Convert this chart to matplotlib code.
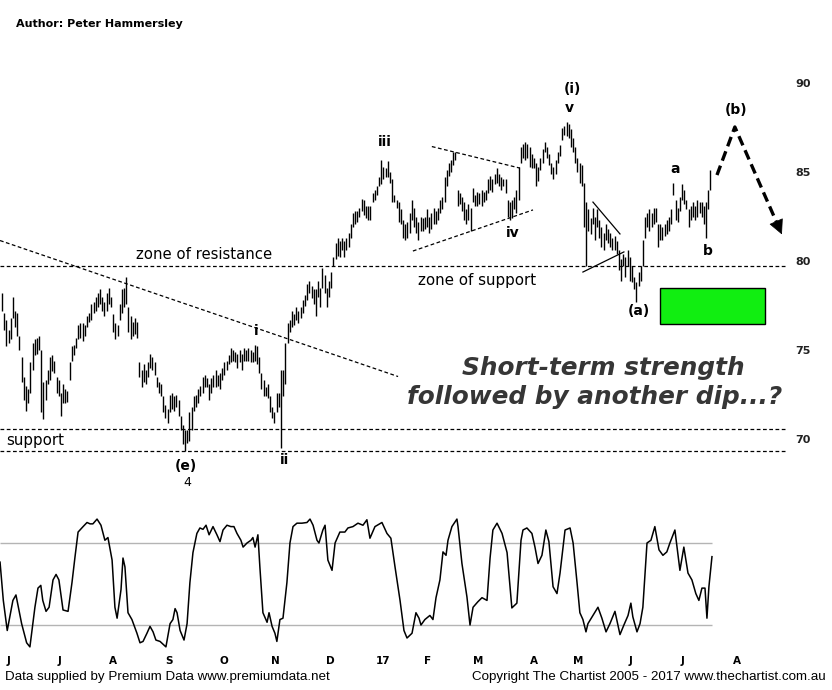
import matplotlib
matplotlib.use('Agg')
import matplotlib.pyplot as plt
from matplotlib.patches import Rectangle
from matplotlib.transforms import blended_transform_factory

# ---------------- data ----------------
highs = [
    78.2, 77.1, 76.7, 76.1, 76.8, 78.0, 77.2, 77.1, 75.8, 74.6,
    73.5, 73.0, 72.8, 74.3, 75.4, 75.6, 75.7, 75.8, 75.0, 73.2,
    73.3, 73.9, 74.6, 74.7, 74.4, 73.5, 73.3, 72.6, 73.1, 72.8,
    72.7, 74.3, 75.2, 75.3, 75.7, 76.4, 76.5, 76.5, 76.4, 76.9,
    77.1, 77.6, 77.7, 78.0, 78.2, 78.4, 78.0, 77.7, 78.2, 78.5,
    78.0, 77.0, 76.5, 76.4, 77.6, 78.4, 78.5, 79.1, 77.4, 76.9,
    76.6, 76.8, 76.6,
    74.3, 73.9, 74.2, 73.9, 74.3, 74.8, 74.6, 74.3, 73.5, 73.2,
    73.1, 72.4, 71.9, 71.7, 72.5, 72.6, 72.4, 72.5, 72.2, 71.3,
    70.8, 70.5, 70.5, 71.5, 71.8, 72.4, 72.5, 72.8, 73.0, 73.5,
    73.6, 73.4, 73.1, 73.4, 73.6, 73.9, 73.6, 73.7, 74.0, 74.3,
    74.4, 74.7, 75.1, 75.0, 74.9, 74.8, 75.0, 74.8, 75.1, 75.0,
    75.1, 75.0, 74.9, 75.3, 75.2, 74.6, 73.7, 73.3, 72.9, 73.1,
    72.4, 71.8, 71.5, 72.6, 72.6, 73.9, 73.9, 75.4,
    76.5, 76.7, 77.2, 77.0, 77.4, 77.2, 77.4, 77.8, 78.1, 78.7,
    78.9, 78.6, 78.4, 78.4, 78.9, 78.5, 79.6, 79.2, 78.5, 78.9,
    79.4, 80.2, 81.0, 81.3, 81.1, 81.3, 81.1, 81.3, 81.6, 82.1,
    82.7, 82.8, 82.8, 83.0, 83.5, 83.4, 83.1, 83.1, 83.1, 83.8,
    84.0, 84.2, 84.7, 85.7, 85.3, 85.2, 85.6, 85.0, 84.6, 83.7,
    83.4, 83.3, 82.9, 82.3, 82.1, 82.2, 82.7, 83.4, 83.0, 82.5,
    82.2, 82.5, 82.4, 82.5, 82.9,
    82.5, 82.7, 83.0, 82.8, 83.0, 83.4, 83.6, 84.7, 85.1, 85.5,
    85.7, 86.1, 86.1, 84.0, 83.8, 83.6, 83.3, 82.9, 83.2, 83.0,
    84.1, 83.7, 83.9, 83.8, 84.0, 83.9, 84.0, 84.6, 84.8, 84.6,
    84.9, 85.2, 84.9, 84.7, 84.6, 84.6, 83.4, 83.3, 83.4, 83.6,
    84.0, 85.3, 86.4, 86.6, 86.7, 86.6, 86.4, 86.0, 85.8, 85.5,
    85.3, 85.8, 86.3, 86.7, 86.4, 86.0, 85.5, 85.3, 85.7, 86.1,
    86.5, 87.5, 87.6, 87.8, 87.7, 87.4, 86.9, 86.4,
    85.8, 85.5, 85.4, 84.4, 83.3, 82.9, 82.4, 83.0, 82.5, 82.9,
    82.3, 81.9, 81.6, 82.1, 81.8, 81.6, 81.3, 81.4, 81.1, 80.6,
    80.1, 80.4, 80.2, 80.6, 80.2, 79.7, 79.1, 78.8, 79.4, 79.7,
    81.2, 82.5, 82.7, 82.9, 82.7, 83.0, 83.0, 82.1, 82.1, 81.9,
    82.1, 82.3, 82.5, 82.9, 84.4, 83.4, 83.0, 83.6, 84.3, 84.0,
    83.4, 82.9, 83.1, 83.3, 83.1, 83.4, 83.3, 83.3, 83.1, 83.3,
    84.0, 85.1,
]
lows = [
    77.2, 76.1, 75.2, 75.4, 75.6, 76.8, 76.3, 75.8, 75.0, 73.2,
    72.2, 71.6, 72.0, 72.6, 73.9, 74.7, 74.8, 75.0, 71.5, 71.1,
    72.2, 73.1, 73.3, 73.8, 73.7, 72.6, 72.4, 71.3, 72.0, 72.0,
    72.1, 73.3, 74.4, 74.7, 75.1, 75.6, 75.7, 75.5, 75.8, 76.3,
    76.6, 76.7, 77.1, 77.2, 77.4, 77.6, 77.2, 76.9, 77.2, 77.6,
    77.4, 76.0, 75.6, 75.8, 76.7, 77.1, 77.4, 77.6, 76.0, 75.6,
    75.8, 75.9, 75.7,
    73.5, 72.9, 73.2, 73.1, 73.5, 74.0, 73.9, 73.6, 72.9, 72.6,
    72.4, 71.5, 71.2, 70.9, 71.5, 71.7, 71.6, 71.8, 71.3, 70.5,
    69.7, 69.3, 69.8, 69.9, 70.5, 71.6, 71.8, 72.0, 72.4, 72.6,
    72.9, 72.9, 72.2, 72.6, 72.9, 72.9, 73.0, 72.8, 73.3, 73.6,
    73.9, 74.2, 74.3, 74.4, 74.3, 74.0, 74.3, 73.9, 74.4, 74.4,
    74.4, 74.3, 74.3, 74.4, 74.2, 73.7, 72.8, 72.4, 72.4, 72.3,
    71.5, 71.2, 70.9, 71.5, 71.8, 69.5, 72.4, 73.1,
    75.4, 76.0, 76.3, 76.4, 76.7, 76.5, 76.8, 77.1, 77.5, 77.8,
    78.2, 77.9, 77.6, 76.9, 78.0, 77.4, 78.5, 78.2, 77.4, 78.0,
    78.5, 79.7, 80.1, 80.3, 80.2, 80.6, 80.2, 80.6, 80.8, 81.3,
    81.9, 82.1, 82.2, 82.5, 82.8, 82.6, 82.4, 82.3, 82.3, 83.3,
    83.4, 83.7, 84.2, 84.3, 84.6, 84.7, 84.7, 84.4, 83.3, 83.3,
    83.0, 82.2, 82.1, 81.3, 81.2, 81.3, 81.6, 82.3, 81.9, 81.6,
    81.2, 81.7, 81.7, 81.8, 81.9,
    81.6, 81.8, 82.1, 82.1, 82.3, 82.7, 82.9, 83.3, 84.2, 84.8,
    85.0, 85.4, 85.7, 83.1, 83.2, 82.8, 82.3, 82.1, 82.3, 81.7,
    83.3, 83.1, 83.1, 83.2, 83.1, 83.3, 83.4, 83.8, 84.0, 83.9,
    84.3, 84.4, 84.2, 84.0, 84.2, 83.8, 82.5, 82.3, 82.4, 82.9,
    82.7, 83.4, 85.5, 85.8, 85.7, 85.8, 85.3, 85.2, 85.2, 84.2,
    84.5, 85.1, 85.5, 86.1, 85.8, 85.4, 84.9, 84.6, 84.9, 85.5,
    85.9, 86.8, 87.1, 87.0, 86.9, 86.4, 86.1, 85.5,
    85.0, 84.4, 84.2, 81.9, 79.7, 81.7, 81.5, 82.1, 81.2, 81.9,
    81.3, 80.8, 80.6, 81.2, 81.0, 80.8, 80.6, 80.6, 80.4, 79.5,
    78.9, 79.7, 79.1, 79.7, 78.9, 78.8, 78.4, 77.7, 78.6, 78.9,
    79.7, 81.3, 81.9, 81.7, 81.9, 82.1, 82.2, 80.8, 81.2, 81.2,
    81.4, 81.5, 81.7, 82.1, 83.7, 82.3, 82.2, 82.8, 83.4, 83.2,
    82.9, 81.9, 82.3, 82.5, 82.3, 82.5, 82.7, 82.5, 82.1, 81.3,
    82.9, 84.0,
]

# stochastic oscillator (bar position, value)
osc_x = [
    -0.9, 0.6, 2.4, 5.0, 6.4, 9.0, 11.3, 12.8, 15.1, 16.5,
    17.8, 18.7, 20.2, 21.6, 23.4, 24.8, 26.1, 28.0, 30.3, 32.1,
    33.5, 34.9, 37.2, 39.0, 40.4, 41.7, 43.6, 45.4, 47.2, 48.6,
    50.5, 51.8, 52.8, 54.6, 55.5, 56.4, 57.8, 59.6, 61.9, 63.3,
    64.7, 66.5, 67.9, 69.3, 70.6, 72.5, 75.2, 77.1, 78.4, 79.4,
    80.3, 81.7, 83.5, 84.9, 86.2, 87.6, 89.4, 90.8, 92.2, 93.6,
    95.0, 96.8, 98.6, 100.0, 101.4, 103.2, 105.0, 106.4, 107.8, 109.6,
    110.6, 112.4, 114.2, 115.1, 116.1, 117.4, 118.3, 119.7, 121.6, 122.5,
    123.9, 125.2, 126.1, 127.5, 128.9, 130.7, 132.1, 133.5, 135.3, 137.6,
    139.9, 141.3, 142.7, 144.5, 145.4, 147.2, 148.2, 149.5, 151.4, 152.8,
    155.0, 157.3, 158.7, 161.0, 163.3, 165.6, 167.4, 168.8, 171.1, 174.3,
    176.6, 178.4, 180.3, 182.6, 184.4, 185.8, 188.1, 189.9, 191.3, 192.2,
    194.0, 196.3, 197.7, 199.1, 200.9, 202.3, 203.7, 204.6, 206.4, 208.7,
    209.2, 211.0, 213.3, 214.7, 216.1, 218.3, 220.2, 222.5, 223.9, 225.2,
    227.1, 229.4, 231.7, 233.9, 236.2, 238.1, 239.0, 240.8, 243.1, 244.5,
    245.9, 247.7, 249.5, 250.9, 252.8, 254.6, 256.0, 258.3, 260.6, 262.0,
    263.8, 265.1, 266.5, 267.9, 268.8, 271.1, 273.4, 275.2, 277.1, 278.9,
    281.2, 283.5, 285.3, 287.2, 288.5, 289.4, 291.3, 292.7, 294.0, 295.9,
    297.7, 299.5, 301.4, 303.2, 305.0, 306.4, 308.7, 311.0, 312.8, 314.7,
    316.5, 318.3, 319.7, 321.1, 322.5, 323.4, 324.3, 325.7,
]
osc_val = [
    66, 38, 16, 38, 42, 21, 7, 4, 33, 47,
    49, 38, 30, 33, 53, 57, 53, 31, 30, 51,
    70, 88, 92, 95, 94, 94, 97.5, 93, 82, 84,
    67.5, 33, 25, 46, 69, 62.5, 29, 24, 14, 7,
    8, 14, 19, 15, 9, 8, 4, 21, 24, 32,
    29, 16, 9, 21, 51, 73, 87, 91, 90, 93,
    86, 92, 86, 81, 89.5, 93, 92, 92, 87, 82,
    77, 80, 82, 84, 77, 86, 62.5, 29, 22, 29,
    19, 14, 8, 24, 25, 51, 80, 92, 94.5, 94.5,
    95, 97.5, 93, 82, 80, 89.5, 93, 67.5, 60, 80,
    88, 88, 91, 92, 94.5, 93, 97, 83.5, 92, 95,
    87, 83.5, 62.5, 38, 16, 10.5, 14, 29, 25, 20,
    24, 27, 24, 40, 53, 73.5, 71, 82, 92, 97.5,
    92, 65, 40.5, 20, 33, 37, 40, 38, 69, 89.5,
    94.5, 87, 73, 32.5, 36, 82, 89.5, 91, 87, 77,
    65, 71, 89.5, 81, 48, 43, 58, 89.5, 91, 80,
    51, 29, 24, 15, 21, 27, 33, 25, 15, 21,
    30, 13, 20, 27, 36, 26, 15, 21, 33, 80,
    82, 92, 75, 71, 73.5, 80, 89.5, 60, 77, 58,
    53, 43, 38, 47, 47, 25, 48, 70,
]

month_labels = ['J', 'J', 'A', 'S', 'O', 'N', 'D', '17', 'F', 'M', 'A', 'M', 'J', 'J', 'A']
month_pos = [2.8, 26.6, 50.9, 76.6, 101.8, 125.2, 150.5, 174.8, 195.4, 218.3, 244.0, 264.2, 288.1, 312.4, 337.2]

price_ticks = [70, 75, 80, 85, 90]
osc_levels = [20, 80]
resistance_level = 79.7
support_levels = [70.55, 69.35]

# ---------------- figure ----------------
W, H = 832, 690
fig = plt.figure(figsize=(W / 100, H / 100), dpi=100, facecolor='white')


def px_axes(x0, y0, x1, y1):
    return fig.add_axes([x0 / W, 1 - y1 / H, (x1 - x0) / W, (y1 - y0) / H])


XL = (-0.92, 361.5)

ax = px_axes(0, 40, 790, 490)
ax.set_xlim(*XL)
ax.set_ylim(67.135, 92.416)
for s in ax.spines.values():
    s.set_visible(False)
ax.set_xticks([])
ax.yaxis.tick_right()
ax.set_yticks(price_ticks)
ax.set_yticklabels([str(t) for t in price_ticks], fontsize=8, fontweight='bold', color='#222222')
ax.tick_params(axis='y', length=0, pad=4)
ax.patch.set_alpha(0)

idx = list(range(len(highs)))
ax.vlines(idx, lows, highs, color='black', lw=1.0)

# horizontal zones
dash = (0, (3, 2))
ax.hlines([resistance_level] + support_levels, XL[0], 359.2, colors='black', lw=0.9, linestyles=[dash])

# trend lines
ax.plot([-0.92, 181.7], [81.15, 73.51], color='black', lw=0.9, ls=dash)
ax.plot([197.2, 237.6], [86.43, 85.22], color='black', lw=0.9, ls=dash)
ax.plot([188.5, 243.6], [80.56, 82.87], color='black', lw=0.9, ls=dash)
ax.plot([271.1, 283.5], [83.31, 81.52], color='black', lw=0.9)
ax.plot([266.5, 285.3], [79.38, 80.51], color='black', lw=0.9)

# projected (b) path
ax.plot([328.0, 336.2, 355.6], [84.83, 87.53, 82.1], color='black', lw=2.4, ls=(0, (3, 1.6)))
ax.annotate('', xy=(358.3, 81.35), xytext=(355.0, 82.27),
            arrowprops=dict(arrowstyle='-|>', color='black', lw=0.5, mutation_scale=24))

# green target box
ax.add_patch(Rectangle((301.8, 76.46), 48.2, 2.02, facecolor='#11ee11', edgecolor='black', lw=1.0))

# labels
lab = dict(fontsize=10, fontweight='bold', ha='center', va='center', color='black')
ax.text(84.4, 68.48, '(e)', **lab)
ax.text(84.9, 67.58, '4', fontsize=9, ha='center', va='center')
ax.text(129.8, 68.82, 'ii', **lab)
ax.text(116.5, 76.07, 'i', **lab)
ax.text(175.7, 86.69, 'iii', **lab)
ax.text(234.4, 81.57, 'iv', **lab)
ax.text(261.5, 89.66, '(i)', **lab)
ax.text(260.1, 88.6, 'v', **lab)
ax.text(308.7, 85.17, 'a', **lab)
ax.text(323.9, 80.56, 'b', **lab)
ax.text(292.2, 77.19, '(a)', **lab)
ax.text(336.7, 88.48, '(b)', **lab)

ax.text(92.7, 80.39, 'zone of resistance', fontsize=10.7, ha='center', va='center')
ax.text(217.9, 78.88, 'zone of support', fontsize=10.9, ha='center', va='center')
ax.text(1.8, 69.89, 'support', fontsize=10.8, ha='left', va='center')

big = dict(fontsize=17.8, fontweight='bold', fontstyle='italic', color='#363636', ha='center', va='center')
ax.text(276.0, 73.99, 'Short-term strength', **big)
ax.text(272.0, 72.36, 'followed by another dip...?', **big)

# ---------------- oscillator ----------------
ax2 = px_axes(0, 510, 790, 655)
ax2.set_xlim(*XL)
ax2.set_ylim(-1.93, 104.14)
for s in ax2.spines.values():
    s.set_visible(False)
ax2.set_xticks([])
ax2.set_yticks([])
ax2.patch.set_alpha(0)
ax2.hlines(osc_levels, osc_x[0], osc_x[-1], colors='#b4b4b4', lw=1.0)
ax2.plot(osc_x, osc_val, color='black', lw=1.1)

tr = blended_transform_factory(ax2.transData, ax2.transAxes)
for p, m in zip(month_pos, month_labels):
    ax2.text(p, -0.041, m, transform=tr, fontsize=7.5, fontweight='bold', ha='center', va='center')

# ---------------- header / footer ----------------
fig.text(16 / W, 1 - 24 / H, 'Author: Peter Hammersley', fontsize=8, fontweight='bold', va='center', ha='left')
fig.text(5 / W, 1 - 677 / H, 'Data supplied by Premium Data www.premiumdata.net',
         fontsize=9.6, family='Liberation Sans', va='center', ha='left')
fig.text(826 / W, 1 - 677 / H, 'Copyright The Chartist 2005 - 2017 www.thechartist.com.au',
         fontsize=9.6, family='Liberation Sans', va='center', ha='right')

fig.savefig('out.png', dpi=100, facecolor='white')
